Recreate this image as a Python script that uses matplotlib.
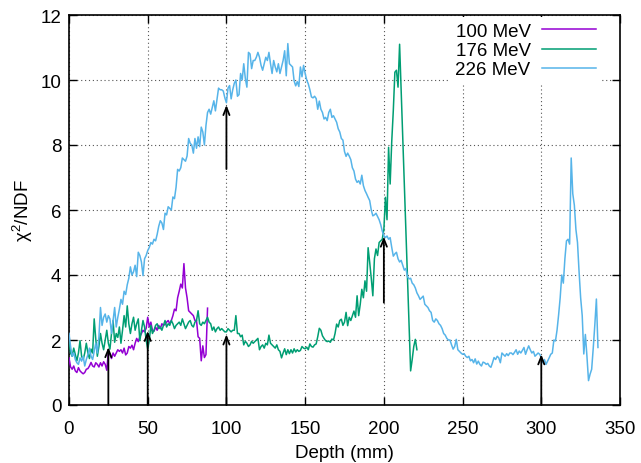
import numpy as np
import matplotlib
matplotlib.use("Agg")
import matplotlib.pyplot as plt

plt.rcParams['font.family'] = ['Liberation Sans', 'DejaVu Sans']
plt.rcParams['mathtext.fontset'] = 'custom'
plt.rcParams['mathtext.rm'] = 'Liberation Sans'
plt.rcParams['mathtext.it'] = 'Liberation Sans:italic'

labels = ["100 MeV", "176 MeV", "226 MeV"]
colors = ["#9400d3", "#009e73", "#56b4e9"]

# chi2/NDF per 1 mm depth step, starting at depth 0
chi_100 = [1.45, 1.17, 1.1, 1.2, 1.05, 1.0, 1.15, 1.05, 1.0, 0.96,
           1.0, 1.1, 1.12, 1.2, 1.31, 1.2, 1.17, 1.3, 1.25, 1.17,
           1.3, 1.2, 1.33, 1.25, 1.07, 1.64, 1.55, 1.43, 1.6, 1.5,
           1.6, 1.7, 1.65, 1.7, 1.6, 1.75, 1.54, 1.6, 1.8, 1.75,
           1.84, 1.7, 1.9, 2.05, 1.95, 2.1, 2.2, 2.3, 2.25, 2.36,
           2.7, 2.4, 2.55, 2.3, 2.27, 2.4, 2.3, 2.45, 2.35, 2.5,
           2.45, 2.48, 2.55, 2.6, 2.5, 2.6, 2.75, 2.95, 2.9, 3.3,
           3.5, 3.72, 3.6, 4.35, 3.6, 3.3, 2.9, 2.85, 2.8, 2.75,
           2.6, 2.6, 2.1, 2.05, 1.36, 1.82, 1.46, 1.55, 2.98]

chi_176 = [1.95, 1.6, 1.5, 1.75, 1.55, 1.36, 1.6, 1.98, 1.5, 1.4,
           1.6, 1.9, 1.6, 1.43, 1.72, 1.6, 2.65, 2.03, 1.5, 1.8,
           2.2, 1.9, 1.7, 2.0, 2.3, 1.9, 1.72, 2.2, 2.6, 1.93,
           2.2, 2.08, 2.4, 1.9, 2.3, 2.75, 2.4, 3.05, 2.5, 2.2,
           2.5, 2.7, 2.3, 2.5, 2.65, 1.98, 2.3, 2.6, 2.4, 2.0,
           1.72, 1.98, 2.45, 2.2, 2.3, 2.45, 2.5, 2.35, 2.4, 2.3,
           2.45, 2.6, 2.4, 2.5, 2.45, 2.6, 2.5, 2.35, 2.45, 2.5,
           2.55, 2.45, 2.65, 2.5, 2.35, 2.45, 2.55, 2.6, 2.45, 2.4,
           2.55, 2.6, 2.9, 2.5, 2.45, 2.55, 2.5, 2.6, 2.7, 2.55,
           2.5, 2.3, 2.4, 2.25, 2.35, 2.4, 2.3, 2.35, 2.3, 2.25,
           2.25, 2.35, 2.3, 2.25, 2.3, 2.3, 2.75, 2.2, 2.2, 2.1,
           2.15, 1.85, 1.96, 1.9, 1.8, 1.85, 1.96, 1.9, 1.95, 2.0,
           2.05, 1.7, 1.8, 1.85, 1.75, 1.9, 1.85, 2.15, 1.9, 1.85,
           1.8, 1.75, 1.85, 1.7, 1.65, 1.45, 1.6, 1.73, 1.55, 1.7,
           1.58, 1.7, 1.6, 1.73, 1.63, 1.7, 1.65, 1.68, 1.8, 1.75,
           1.73, 1.78, 1.7, 1.88, 1.8, 1.78, 1.85, 1.88, 2.1, 2.36,
           2.3, 2.13, 2.05, 1.98, 1.95, 1.97, 1.93, 2.03, 2.0, 2.2,
           2.49, 2.4, 2.6, 2.64, 2.45, 2.55, 2.85, 2.44, 2.7, 2.6,
           2.75, 2.89, 2.7, 3.36, 2.75, 3.1, 3.56, 3.3, 3.82, 3.5,
           4.84, 4.39, 3.9, 3.36, 4.5, 4.8, 4.6, 5.0, 5.05, 5.1,
           5.4, 6.39, 5.7, 7.93, 6.8, 8.1, 9.06, 10.24, 10.3, 9.78,
           11.1, 9.66, 8.23, 6.79, 5.36, 3.92, 2.49, 1.05, 1.4, 1.8,
           2.02, 1.7]

chi_226 = [2.2, 1.8, 1.5, 1.6, 1.4, 1.3, 1.25, 1.45, 1.35, 1.5,
           1.2, 1.4, 1.55, 1.75, 1.5, 1.4, 1.65, 1.9, 1.6, 2.1,
           3.0, 2.45, 2.7, 2.8, 2.55, 2.75, 2.65, 2.2, 2.6, 3.0,
           2.4, 2.7, 2.95, 3.25, 3.1, 3.5, 3.4, 3.7, 3.9, 4.25,
           4.0, 4.1, 4.3, 3.95, 4.7, 4.6, 4.4, 3.98, 4.5, 4.6,
           4.75, 4.85, 5.0, 4.95, 5.1, 5.05, 5.25, 5.5, 5.67, 5.6,
           5.4, 5.9, 5.85, 6.1, 6.05, 6.0, 6.4, 6.35, 6.7, 7.25,
           7.2, 7.3, 7.6, 7.55, 7.5, 7.66, 8.2, 8.05, 8.0, 7.75,
           8.2, 7.9, 8.25, 7.95, 8.55, 8.4, 8.0, 8.6, 9.0, 9.1,
           8.95, 9.15, 9.36, 9.05, 9.4, 9.75, 9.7, 9.7, 9.66, 9.45,
           9.3, 9.75, 9.83, 9.42, 9.7, 9.9, 10.0, 9.5, 9.55, 10.2,
           10.0, 10.5, 10.05, 9.78, 10.85, 10.8, 10.35, 10.6, 10.6, 10.7,
           10.85, 10.7, 10.45, 10.3, 10.5, 10.7, 10.6, 10.85, 10.5, 10.2,
           10.6, 10.4, 10.25, 10.5, 10.2, 10.4, 10.6, 10.9, 10.13, 11.12,
           10.5, 10.45, 10.4, 9.97, 9.82, 9.95, 9.8, 10.4, 10.1, 10.45,
           10.2, 10.0, 9.88, 9.7, 9.48, 9.45, 9.5, 9.43, 9.1, 9.35,
           9.1, 9.0, 8.8, 8.85, 8.75, 9.0, 9.1, 8.85, 8.9, 8.8,
           8.7, 8.5, 8.4, 8.2, 8.15, 7.8, 7.65, 7.75, 7.66, 7.55,
           7.3, 7.2, 6.95, 6.85, 6.9, 6.8, 7.07, 6.75, 6.6, 6.5,
           6.39, 6.29, 6.0, 5.82, 5.85, 5.9, 5.8, 5.7, 5.55, 5.35,
           5.21, 5.15, 5.2, 5.1, 5.15, 4.85, 4.58, 4.65, 4.7, 4.5,
           4.4, 4.45, 4.3, 4.15, 4.2, 3.95, 3.88, 3.9, 3.75, 3.7,
           3.6, 3.45, 3.36, 3.25, 3.3, 3.35, 3.1, 3.05, 3.0, 2.9,
           2.85, 2.6, 2.55, 2.65, 2.6, 2.5, 2.45, 2.35, 2.2, 2.15,
           2.05, 2.0, 2.0, 1.85, 1.72, 1.8, 2.02, 1.7, 1.65, 1.6,
           1.56, 1.58, 1.5, 1.46, 1.5, 1.36, 1.4, 1.3, 1.42, 1.26,
           1.35, 1.25, 1.2, 1.32, 1.3, 1.25, 1.28, 1.2, 1.16, 1.3,
           1.46, 1.4, 1.5, 1.45, 1.3, 1.6, 1.55, 1.5, 1.58, 1.52,
           1.6, 1.6, 1.55, 1.62, 1.7, 1.56, 1.66, 1.6, 1.68, 1.77,
           1.56, 1.7, 1.82, 1.7, 1.6, 1.65, 1.5, 1.55, 1.6, 1.56,
           1.45, 1.3, 1.4, 1.25, 1.35, 1.45, 1.56, 1.6, 2.0, 1.97,
           2.3, 2.77, 3.3, 4.0, 3.75, 4.5, 5.05, 5.1, 4.95, 7.6,
           6.5, 6.15, 5.4, 5.0, 4.1, 3.3, 2.75, 1.57, 2.17, 1.5,
           0.75, 0.95, 1.1, 1.75, 2.46, 3.26, 1.77]

series = [chi_100, chi_176, chi_226]

# arrows: depth, start value, end value
arrow_depth = [25, 50, 100, 100, 200, 300]
arrow_from = [0.0, 0.0, 0.0, 7.26, 3.15, 0.0]
arrow_to = [1.78, 2.28, 2.17, 9.23, 5.18, 1.56]

xticks = [0, 50, 100, 150, 200, 250, 300, 350]
yticks = [0, 2, 4, 6, 8, 10, 12]

FS = 13.5

fig = plt.figure(figsize=(6.41, 4.64), dpi=100)
ax = fig.add_axes([69/641, 1 - 406/464, 551/641, 390/464])

for vals, lab, col in zip(series, labels, colors):
    depth = np.arange(len(vals))
    ax.plot(depth, vals, color=col, lw=1.1, label=lab, zorder=3)

for xd, y0, y1 in zip(arrow_depth, arrow_from, arrow_to):
    ax.annotate("", xy=(xd, y1), xytext=(xd, y0),
                arrowprops=dict(arrowstyle="->,head_length=0.55,head_width=0.22",
                                color="black", lw=1.3, shrinkA=0, shrinkB=0),
                zorder=5)

ax.set_xlim(0, 350)
ax.set_ylim(0, 12)
ax.set_xticks(xticks)
ax.set_yticks(yticks)
ax.tick_params(direction='in', length=6, width=1, top=True, right=True,
               labelsize=FS)
ax.tick_params(axis='x', pad=11)
ax.tick_params(axis='y', pad=5.5)
ax.grid(True, color='#555555', lw=0.8, linestyle=(0, (1, 2.5)))
ax.set_axisbelow(True)
for sp in ax.spines.values():
    sp.set_linewidth(1.2)

ax.set_xlabel("Depth (mm)", fontsize=FS, labelpad=5)
ax.set_ylabel("χ$^{2}$/NDF", fontsize=FS, labelpad=4)

leg = ax.legend(loc='upper right', bbox_to_anchor=(0.967, 0.995), markerfirst=False,
                frameon=True, fancybox=False, edgecolor='none', facecolor='white',
                framealpha=1, fontsize=FS, handlelength=2.9, handletextpad=0.6,
                labelspacing=0.12, borderpad=0.3, borderaxespad=0)
leg.set_zorder(4)

fig.savefig("out.png", dpi=100)
